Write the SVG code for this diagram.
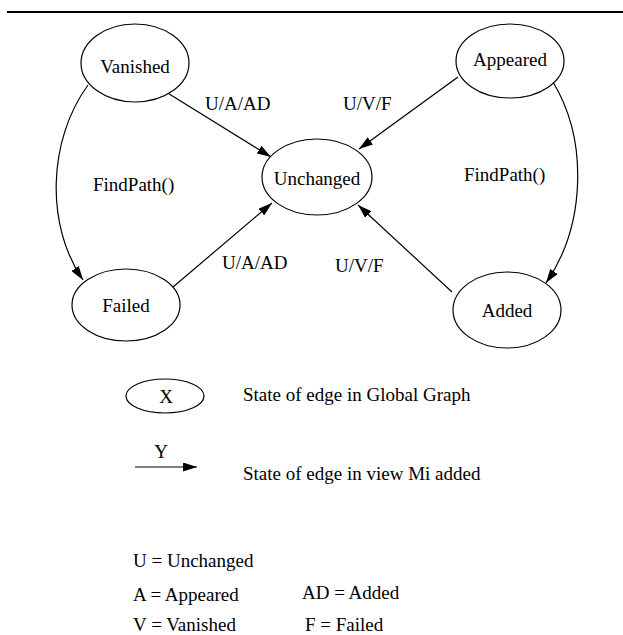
<svg xmlns="http://www.w3.org/2000/svg" width="623" height="635" viewBox="0 0 623 635">
  <style>
    .node { fill: #fff; stroke: #000; stroke-width: 1.2; }
    .edge { fill: none; stroke: #000; stroke-width: 1.2; }
    text { font-family: "Liberation Serif", "Times New Roman", serif; font-size: 19px; fill: #000; }
    .c { text-anchor: middle; }
  </style>
  <defs>
    <marker id="arrow" viewBox="0 0 14 9" refX="14" refY="4.5" markerWidth="14" markerHeight="9" markerUnits="userSpaceOnUse" orient="auto">
      <path d="M0,0 L14,4.5 L0,9 Z" fill="#000"/>
    </marker>
  </defs>

  <rect width="623" height="635" fill="#fff"/>
  <line x1="7" y1="12" x2="623" y2="12" stroke="#000" stroke-width="2"/>

  <g id="edges">
    <line class="edge" x1="166" y1="92" x2="271" y2="157" marker-end="url(#arrow)"/>
    <line class="edge" x1="173" y1="287" x2="272" y2="203" marker-end="url(#arrow)"/>
    <line class="edge" x1="458" y1="77" x2="359" y2="149" marker-end="url(#arrow)"/>
    <line class="edge" x1="452" y1="292" x2="358" y2="205" marker-end="url(#arrow)"/>
    <path class="edge" d="M88,85 C48,140 45,225 83,280" marker-end="url(#arrow)"/>
    <path class="edge" d="M553,82 C588,140 586,225 546,283" marker-end="url(#arrow)"/>
    <text x="205" y="110">U/A/AD</text>
    <text x="222" y="269">U/A/AD</text>
    <text x="343" y="110">U/V/F</text>
    <text x="335" y="272">U/V/F</text>
    <text x="93" y="191">FindPath()</text>
    <text x="464" y="181">FindPath()</text>
  </g>

  <g id="vanished">
    <ellipse class="node" cx="135" cy="63" rx="54" ry="39"/>
    <text class="c" x="135" y="73">Vanished</text>
  </g>
  <g id="appeared">
    <ellipse class="node" cx="510" cy="61" rx="54" ry="37"/>
    <text class="c" x="510" y="66">Appeared</text>
  </g>
  <g id="unchanged">
    <ellipse class="node" cx="317" cy="177" rx="55" ry="38"/>
    <text class="c" x="317" y="185">Unchanged</text>
  </g>
  <g id="failed">
    <ellipse class="node" cx="126" cy="305" rx="54" ry="36"/>
    <text class="c" x="126" y="312">Failed</text>
  </g>
  <g id="added">
    <ellipse class="node" cx="507" cy="310" rx="54" ry="38"/>
    <text class="c" x="507" y="317">Added</text>
  </g>

  <g id="legend">
    <ellipse class="node" cx="165" cy="396" rx="39" ry="17"/>
    <text class="c" x="166" y="403">X</text>
    <text x="243" y="401">State of edge in Global Graph</text>
    <line class="edge" x1="135" y1="467" x2="197" y2="467" marker-end="url(#arrow)"/>
    <text class="c" x="161" y="458">Y</text>
    <text x="243" y="480">State of edge in view Mi added</text>
    <text x="133" y="567">U = Unchanged</text>
    <text x="133" y="601">A = Appeared</text>
    <text x="302" y="599">AD = Added</text>
    <text x="133" y="631">V = Vanished</text>
    <text x="305" y="631">F = Failed</text>
  </g>
</svg>
